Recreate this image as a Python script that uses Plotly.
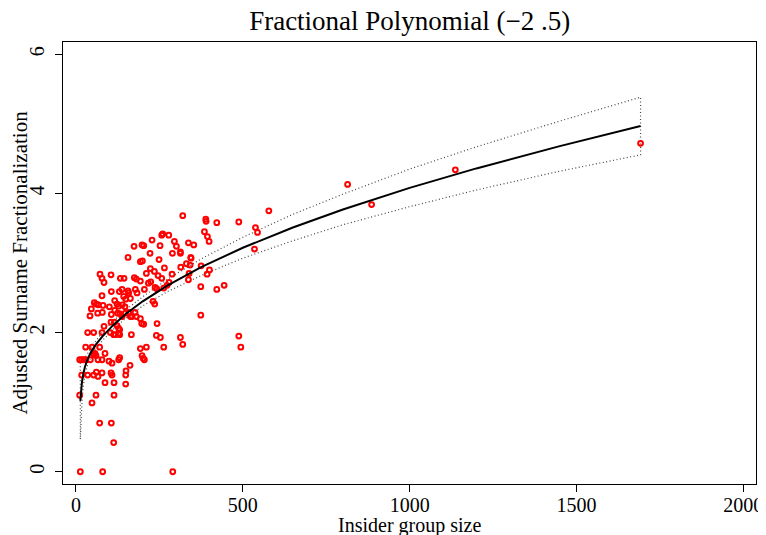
import plotly.graph_objects as go

# observed points: insider group size vs adjusted surname fractionalization
group_size = [
    320, 389, 390, 422, 488, 538, 544, 385, 257, 260, 278, 394, 228, 399, 295,
    174, 198, 203, 252, 301, 337, 353, 313, 313, 156, 222, 289, 344, 345, 249,
    193, 199, 331, 342, 314, 265, 223, 235, 72, 105, 288, 339, 400, 393, 78,
    133, 144, 175, 181, 337, 246, 257, 84, 193, 211, 217, 224, 279, 273, 374,
    422, 444, 263, 237, 242, 78, 106, 130, 138, 156, 158, 205, 178, 143, 149,
    163, 183, 231, 236, 55, 61, 67, 81, 100, 116, 123, 128, 139, 147, 46,
    42, 65, 79, 106, 116, 125, 132, 138, 148, 158, 163, 168, 177, 181, 193,
    197, 203, 243, 84, 105, 115, 123, 128, 131, 35, 53, 78, 103, 113, 118,
    128, 131, 166, 241, 253, 313, 488, 193, 211, 263, 29, 48, 71, 320, 494,
    13, 80, 290, 113, 71, 106, 48, 60, 114, 11, 87, 114, 149, 17, 35,
    53, 66, 78, 105, 108, 149, 150, 61, 11, 17, 23, 29, 43, 66, 78,
    128, 131, 99, 108, 162, 53, 57, 60, 87, 198, 201, 205,
    814, 886, 578, 535, 374, 375, 1137, 1692,
]
fractionalization = [
    3.68, 3.63, 3.60, 3.58, 3.59, 3.51, 3.44, 3.45, 3.40, 3.42, 3.40, 3.38, 3.33, 3.31, 3.31,
    3.24, 3.26, 3.25, 3.25, 3.24, 3.29, 3.26, 3.16, 3.14, 3.08, 3.14, 3.14, 3.08, 3.07, 3.05,
    3.02, 3.03, 2.99, 2.97, 2.94, 2.93, 2.92, 2.88, 2.84, 2.83, 2.84, 2.85, 2.90, 2.84, 2.78,
    2.78, 2.78, 2.79, 2.77, 2.76, 2.82, 2.78, 2.72, 2.74, 2.85, 2.71, 2.73, 2.72, 2.68, 2.66,
    2.62, 2.68, 2.64, 2.65, 2.63, 2.53, 2.59, 2.59, 2.62, 2.60, 2.57, 2.62, 2.62, 2.52, 2.48,
    2.49, 2.57, 2.45, 2.41, 2.43, 2.41, 2.40, 2.39, 2.37, 2.46, 2.41, 2.38, 2.40, 2.37, 2.34,
    2.24, 2.28, 2.29, 2.26, 2.32, 2.28, 2.27, 2.23, 2.28, 2.29, 2.23, 2.23, 2.29, 2.23, 2.20,
    2.13, 2.12, 2.13, 2.09, 2.15, 2.15, 2.10, 2.06, 2.04, 2.00, 2.00, 2.00, 2.00, 1.97, 1.97,
    1.99, 1.97, 1.97, 1.96, 1.93, 1.93, 1.95, 1.77, 1.79, 1.79, 1.79, 1.79, 1.79, 1.83, 1.79,
    0.00, 0.00, 0.00, 0.42, 0.70, 0.70, 0.99, 1.10, 1.10, 1.10, 1.28, 1.28, 1.26, 1.39, 1.39,
    1.39, 1.37, 1.42, 1.42, 1.39, 1.39, 1.45, 1.43, 1.61, 1.61, 1.61, 1.61, 1.61, 1.61, 1.61,
    1.61, 1.64, 1.59, 1.56, 1.53, 1.68, 1.70, 1.67, 1.70, 1.67, 1.63, 1.61,
    4.13, 3.84, 3.75, 3.20, 2.25, 2.96, 4.34, 4.72,
]

# fitted fractional polynomial curve (-2, .5) with confidence band
fit_x = [13, 15, 18, 22, 27, 35, 45, 60, 80, 110, 150, 200, 275, 375, 500,
         650, 800, 1000, 1200, 1450, 1692]
fit_y = [1.02, 1.16, 1.29, 1.41, 1.51, 1.62, 1.72, 1.83, 1.95, 2.10, 2.27, 2.45,
         2.68, 2.94, 3.22, 3.51, 3.77, 4.08, 4.36, 4.68, 4.97]
lower_y = [0.47, 0.74, 1.01, 1.23, 1.39, 1.54, 1.65, 1.77, 1.89, 2.04, 2.21, 2.385,
           2.59, 2.82, 3.07, 3.32, 3.55, 3.81, 4.05, 4.32, 4.555]
upper_y = [1.57, 1.58, 1.57, 1.59, 1.63, 1.70, 1.79, 1.89, 2.01, 2.16, 2.33, 2.515,
           2.77, 3.06, 3.37, 3.70, 3.99, 4.35, 4.67, 5.04, 5.385]

x_ticks = [0, 500, 1000, 1500, 2000]
y_ticks = [0, 2, 4, 6]

serif = "Liberation Serif"

fig = go.Figure()

# band drawn as one dotted path: lower left->right, upper right->left
fig.add_trace(go.Scatter(
    x=fit_x + fit_x[::-1] + fit_x[:1],
    y=lower_y + upper_y[::-1] + lower_y[:1],
    mode="lines",
    line=dict(color="#444444", width=1.2, dash="1px,2.5px"),
    hoverinfo="skip",
))

fig.add_trace(go.Scatter(
    x=group_size, y=fractionalization,
    mode="markers",
    marker=dict(symbol="circle-open", size=4.8, color="red",
                line=dict(color="red", width=2)),
))

fig.add_trace(go.Scatter(
    x=fit_x, y=fit_y,
    mode="lines",
    line=dict(color="black", width=2),
))

axis_common = dict(
    showgrid=False, zeroline=False, automargin=False,
    showline=True, mirror=True, linecolor="black", linewidth=1,
    ticks="outside", ticklen=7, tickcolor="black", tickwidth=1,
    tickfont=dict(family=serif, size=20, color="black"),
)

# the page body adds an 8px offset, so the figure is a bit smaller than the window
fig.update_layout(
    width=758, height=527,
    showlegend=False,
    paper_bgcolor="white",
    plot_bgcolor="white",
    margin=dict(l=55, r=10, t=34, b=51),
    font=dict(family=serif, color="black"),
    title=dict(
        text="Fractional Polynomial (\u22122 .5)",
        font=dict(family=serif, size=27, color="black"),
        x=0.530, xanchor="center",
        y=1 - 13 / 527, yanchor="middle",
    ),
    xaxis=dict(
        **axis_common,
        range=[-38.9, 2038],
        tickvals=x_ticks,
        ticklabelstandoff=-4,
    ),
    yaxis=dict(
        **axis_common,
        range=[-0.176, 6.177],
        tickvals=y_ticks,
        tickangle=-90,
        ticklabelstandoff=3,
        title=dict(text="Adjusted Surname Fractionalization",
                   font=dict(family=serif, size=21), standoff=2),
    ),
    annotations=[dict(
        text="Insider group size",
        xref="paper", yref="paper", x=0.5, y=0,
        xanchor="center", yanchor="middle", yshift=-41,
        showarrow=False,
        font=dict(family=serif, size=20, color="black"),
    )],
)

fig.write_html("out.html")
